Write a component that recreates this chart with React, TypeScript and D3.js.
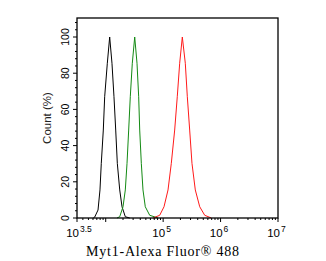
import React from "react";
import * as d3 from "d3";

// log10 fluorescence intensity and count (%)
const blackLog = [3.784, 3.808, 3.866, 3.9, 3.923, 3.958, 3.982, 4.028, 4.069, 4.109, 4.144, 4.174, 4.202, 4.244, 4.284, 4.341, 4.418];
const blackCount = [0, 0.5, 4.4, 15.5, 30.2, 48.6, 67, 85.5, 100, 85.5, 67, 48.6, 30.2, 15.5, 6.2, 0.7, 0];

const greenLog = [4.196, 4.244, 4.301, 4.341, 4.371, 4.4, 4.428, 4.463, 4.505, 4.545, 4.574, 4.592, 4.62, 4.649, 4.689, 4.766, 4.91];
const greenCount = [0, 0.7, 6.2, 15.5, 30.2, 48.6, 67, 85.5, 100, 85.5, 67, 48.6, 30.2, 15.5, 6.2, 1.5, 0];

const redLog = [4.823, 4.94, 5.015, 5.085, 5.142, 5.201, 5.246, 5.288, 5.334, 5.386, 5.421, 5.462, 5.502, 5.56, 5.637, 5.724, 5.839];
const redCount = [0, 1.5, 6.2, 15.5, 30.2, 48.6, 67, 85.5, 100, 85.5, 67, 48.6, 30.2, 15.5, 6.2, 1.5, 0];

const xTickExponents = ["3.5", "5", "6", "7"];
const yTickLabels = [0, 20, 40, 60, 80, 100];
const xTitle = "Myt1-Alexa Fluor® 488";
const yTitle = "Count (%)";

const W = 326, H = 261;
const L = 77, R = 278, T = 18, B = 218;

export default function App() {
  const x = d3.scaleLog().domain([Math.pow(10, 3.5), 1e7]).range([L, R]);
  const y = d3.scaleLinear().domain([0, 110.5]).range([B, T]);
  const line = d3
    .line<[number, number]>()
    .x((d) => x(Math.pow(10, d[0])))
    .y((d) => y(d[1]));

  const series = [
    { lg: blackLog, c: blackCount, color: "#000000" },
    { lg: greenLog, c: greenCount, color: "#138a13" },
    { lg: redLog, c: redCount, color: "#ff1a1a" },
  ];

  const xMinor: number[] = [];
  for (let d = 3; d <= 6; d++) {
    for (let k = 2; k <= 9; k++) {
      const v = k * Math.pow(10, d);
      if (v > Math.pow(10, 3.5) && v < 1e7) xMinor.push(v);
    }
  }
  const xMajor = [Math.pow(10, 3.5), 1e4, 1e5, 1e6, 1e7];
  const yMinor = d3.range(0, 110, 4);

  const sans = "Arial, 'Liberation Sans', sans-serif";

  return (
    <svg width={W} height={H} style={{ position: "absolute", left: 0, top: 0, background: "#fff" }}>
      <rect x={0} y={0} width={W} height={H} fill="#fff" />
      {series.map((s, i) => (
        <path
          key={i}
          d={line(s.lg.map((v, j) => [v, s.c[j]] as [number, number])) || ""}
          fill="none"
          stroke={s.color}
          strokeWidth={1}
        />
      ))}
      <rect x={L} y={T} width={R - L} height={B - T} fill="none" stroke="#000" strokeWidth={1.3} />
      {yMinor.map((v) => (
        <line key={"ym" + v} x1={L - (v % 20 === 0 ? 4 : 2)} x2={L} y1={y(v)} y2={y(v)} stroke="#000" strokeWidth={1} />
      ))}
      {xMinor.map((v) => (
        <line key={"xm" + v} x1={x(v)} x2={x(v)} y1={B} y2={B + 2} stroke="#000" strokeWidth={1} />
      ))}
      {xMajor.map((v) => (
        <line key={"xM" + v} x1={x(v)} x2={x(v)} y1={B} y2={B + 4} stroke="#000" strokeWidth={1} />
      ))}
      {yTickLabels.map((v) => (
        <text
          key={"yl" + v}
          transform={`translate(69,${y(v)}) rotate(-90)`}
          textAnchor="middle"
          fontFamily={sans}
          fontSize={10.5}
          fill="#000"
        >
          {v}
        </text>
      ))}
      {xTickExponents.map((e) => {
        const px = x(Math.pow(10, parseFloat(e)));
        return (
          <g key={"xl" + e}>
            <text x={px + 2} y={237} textAnchor="end" fontFamily={sans} fontSize={11.5} fill="#000">
              10
            </text>
            <text x={px + 3} y={231.5} textAnchor="start" fontFamily={sans} fontSize={8.5} fill="#000">
              {e}
            </text>
          </g>
        );
      })}
      <text
        transform={`translate(51,118) rotate(-90)`}
        textAnchor="middle"
        fontFamily={sans}
        fontSize={11.5}
        fill="#222"
      >
        {yTitle}
      </text>
      <text
        x={162.5}
        y={256}
        textAnchor="middle"
        fontFamily="'Liberation Serif', 'DejaVu Serif', serif"
        fontSize={14}
        textLength={153}
        lengthAdjust="spacing"
        fill="#000"
      >
        {xTitle}
      </text>
    </svg>
  );
}
